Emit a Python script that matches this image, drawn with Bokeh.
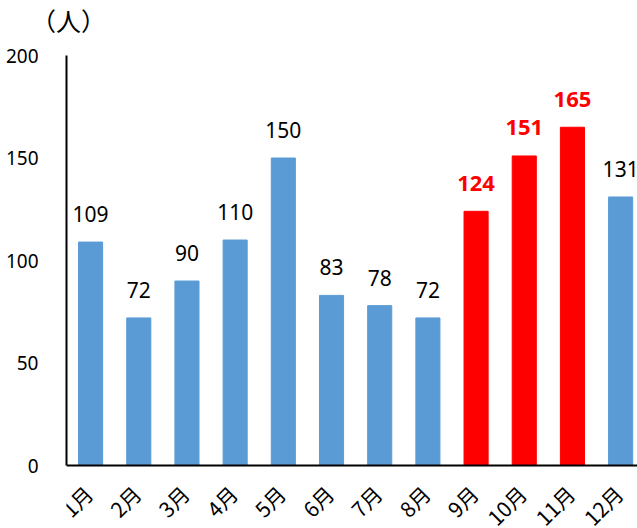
import math
from bokeh.plotting import figure
from bokeh.layouts import column
from bokeh.models import ColumnDataSource, FixedTicker, Range1d, Span, Div
from bokeh.embed import file_html
from bokeh.resources import INLINE
from bokeh.core.properties import value

unit_label = "（人）"
months = ["1月", "2月", "3月", "4月", "5月", "6月", "7月", "8月", "9月", "10月", "11月", "12月"]
counts = [109, 72, 90, 110, 150, 83, 78, 72, 124, 151, 165, 131]
highlight = [False, False, False, False, False, False, False, False, True, True, True, False]

BLUE = "#5B9BD5"
RED = "#FF0000"

xs = [i + 0.5 for i in range(len(months))]
colors = [RED if h else BLUE for h in highlight]

# --- header strip holding the unit label ---
head = Div(
    text=('<span style="display:block; padding:8px 0 0 31px; '
          'font-family:\'Noto Sans CJK JP\'; font-size:25px; line-height:1; '
          'color:black; white-space:nowrap;">' + unit_label + '</span>'),
    width=637, height=43, margin=0)

# --- main chart ---
src = ColumnDataSource(dict(x=xs, y=counts, c=colors))

p = figure(width=637, height=485, output_backend="svg", toolbar_location=None,
           x_range=Range1d(0, 11.85), y_range=Range1d(-30.7, 200))
p.min_border_left = 66
p.min_border_right = 0
p.min_border_top = 12
p.min_border_bottom = 0
p.outline_line_color = None
p.grid.visible = False
p.background_fill_color = "white"
p.border_fill_color = "white"
p.xaxis.visible = False

p.vbar(x="x", top="y", width=0.5, color="c", source=src)

# x axis line at zero
p.add_layout(Span(location=0, dimension="width", line_color="black", line_width=2))

# month labels, rotated
p.text(x=xs, y=[0] * len(xs), text=months, angle=math.pi / 4, text_align="right",
       text_baseline="middle", x_offset=-2, y_offset=24,
       text_font=value("Noto Sans CJK JP"), text_font_size="21px", text_color="black")

normal = dict(x=[x for x, h in zip(xs, highlight) if not h],
              y=[v for v, h in zip(counts, highlight) if not h],
              t=[str(v) for v, h in zip(counts, highlight) if not h])
hi = dict(x=[x for x, h in zip(xs, highlight) if h],
          y=[v for v, h in zip(counts, highlight) if h],
          t=[str(v) for v, h in zip(counts, highlight) if h])

p.text(x="x", y="y", text="t", source=ColumnDataSource(normal), text_align="center",
       text_baseline="alphabetic", y_offset=-28, text_font=value("Noto Sans"),
       text_font_size="21px", text_color="black")
p.text(x="x", y="y", text="t", source=ColumnDataSource(hi), text_align="center",
       text_baseline="alphabetic", y_offset=-28, text_font=value("Noto Sans"),
       text_font_style="bold", text_font_size="22px", text_color=RED)

ya = p.yaxis[0]
ya.ticker = FixedTicker(ticks=[0, 50, 100, 150, 200])
ya.bounds = (0, 200)
ya.major_tick_line_color = None
ya.minor_tick_line_color = None
ya.axis_line_color = "black"
ya.axis_line_width = 2
ya.major_label_text_font = "Noto Sans"
ya.major_label_text_font_size = "19px"
ya.major_label_text_color = "black"
ya.major_label_standoff = 22

layout = column(head, p, spacing=0)
open("out.html", "w").write(file_html(layout, INLINE))
